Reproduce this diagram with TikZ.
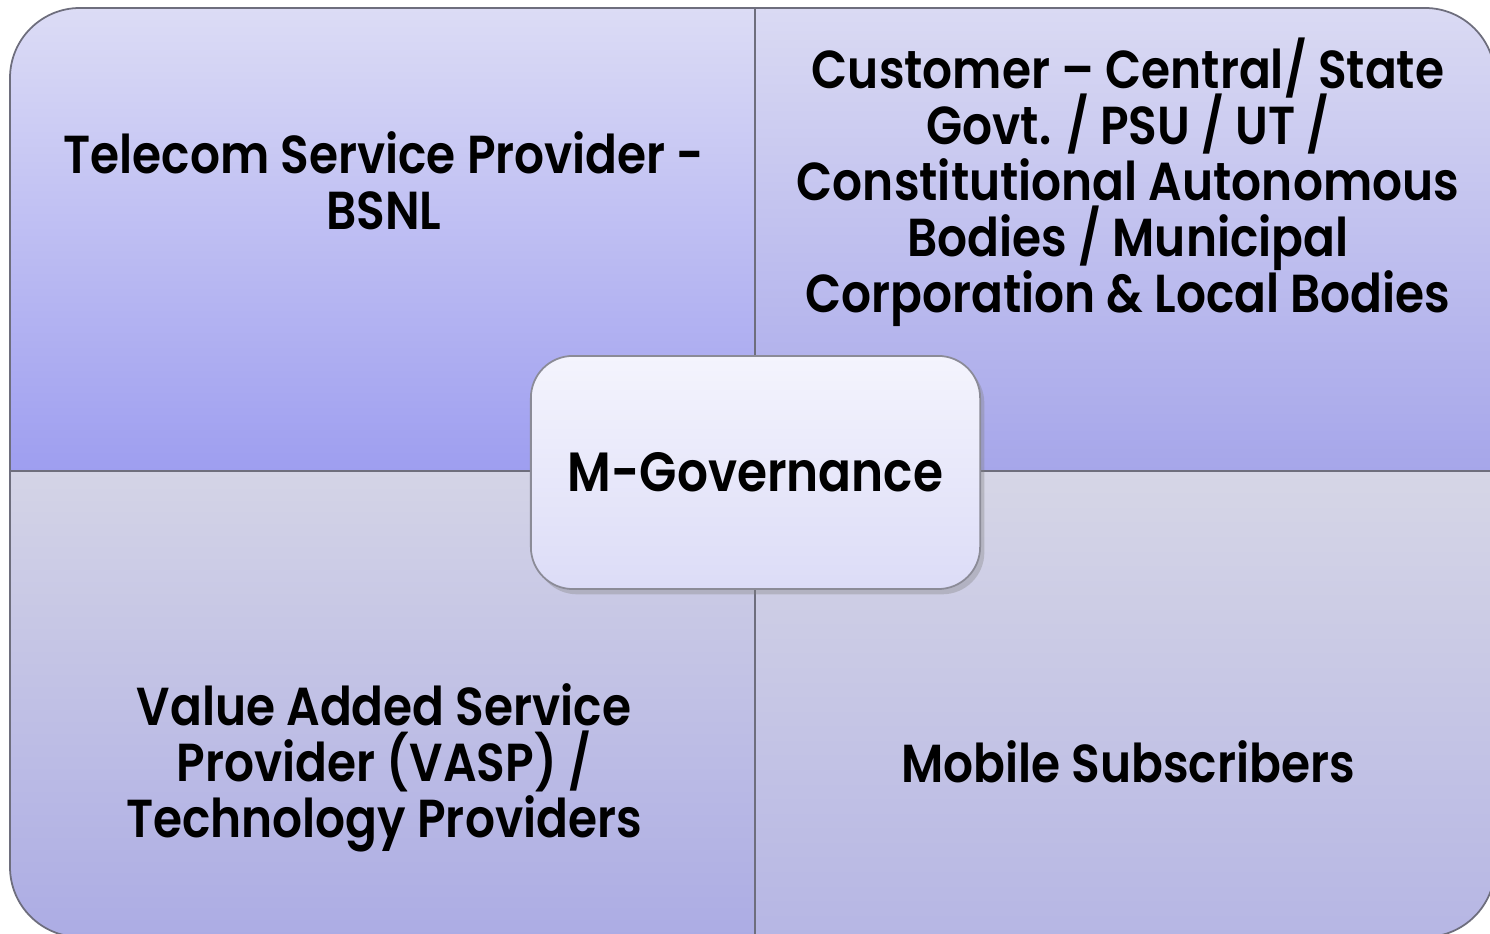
\documentclass[tikz,border=0pt]{standalone}
\usepackage{fontspec}
\setmainfont{Poppins}[FakeStretch=0.88, BoldFont={Poppins SemiBold}]
\usetikzlibrary{shadows}

\definecolor{tltop}{RGB}{220,220,245}
\definecolor{tlbot}{RGB}{158,158,240}
\definecolor{trtop}{RGB}{218,218,243}
\definecolor{trbot}{RGB}{166,166,234}
\definecolor{bltop}{RGB}{212,212,230}
\definecolor{blbot}{RGB}{172,172,228}
\definecolor{brtop}{RGB}{214,214,230}
\definecolor{brbot}{RGB}{182,182,228}
\definecolor{hubtop}{RGB}{244,244,253}
\definecolor{hubbot}{RGB}{220,220,247}
\definecolor{rim}{RGB}{110,110,125}

\newcommand\quadfont{\bfseries\fontsize{15.2}{15.9}\selectfont\lineskiplimit-20pt\relax}

\tikzset{
  quadtext/.style={align=center, text=black, font=\quadfont},
  hubbox/.style={draw=rim!80, line width=0.5pt, rounded corners=0.42cm,
    top color=hubtop, bottom color=hubbot, minimum width=4.49cm, minimum height=2.33cm,
    drop shadow={opacity=0.35, shadow xshift=1.2pt, shadow yshift=-1.5pt},
    font=\bfseries\fontsize{15.7}{15}\selectfont}
}

\begin{document}
\begin{tikzpicture}[x=0.01cm,y=0.01cm]
			%%%%% FRAME %%%%%
			\def\xl{10}
			\def\xr{1495}
			\def\xm{755}
			\def\yt{926}
			\def\yb{-3}
			\def\ym{463}
			\def\rad{70}
			
			\useasboundingbox (0,0) rectangle (1490,934);
			\fill[white] (0,0) rectangle (1490,934);
			
			% top left
			\draw[line width=0.5pt, draw=rim, top color=tltop, bottom color=tlbot]
				(\xl,\ym) -- (\xl,\yt-\rad) arc (180:90:\rad) -- (\xm,\yt) -- (\xm,\ym) -- cycle;
			% top right
			\draw[line width=0.5pt, draw=rim, top color=trtop, bottom color=trbot]
				(\xm,\ym) -- (\xm,\yt) -- (\xr-\rad,\yt) arc (90:0:\rad) -- (\xr,\ym) -- cycle;
			% bottom left
			\draw[line width=0.5pt, draw=rim, top color=bltop, bottom color=blbot]
				(\xl,\ym) -- (\xm,\ym) -- (\xm,\yb) -- (\xl+\rad,\yb) arc (270:180:\rad) -- cycle;
			% bottom right
			\draw[line width=0.5pt, draw=rim, top color=brtop, bottom color=brbot]
				(\xm,\ym) -- (\xr,\ym) -- (\xr,\yb+\rad) arc (0:-90:\rad) -- (\xm,\yb) -- cycle;
			
			%%%%% LABELS %%%%%
			\node[quadtext] (provider) at (384,753) {Telecom Service Provider -\\BSNL};
			\node[quadtext] (customer) at (1128,752) {Customer -- Central/ State\\Govt. / PSU / UT /\\Constitutional Autonomous\\Bodies / Municipal\\Corporation \& Local Bodies};
			\node[quadtext] (vasp) at (384,166) {Value Added Service\\Provider (VASP) /\\Technology Providers};
			\node[quadtext] (subscribers) at (1128,172) {Mobile Subscribers};
			
			%%%%% HUB %%%%%
			\node[hubbox] (mgov) at (755.5,461.5) {M-Governance};
		\end{tikzpicture}
\end{document}
